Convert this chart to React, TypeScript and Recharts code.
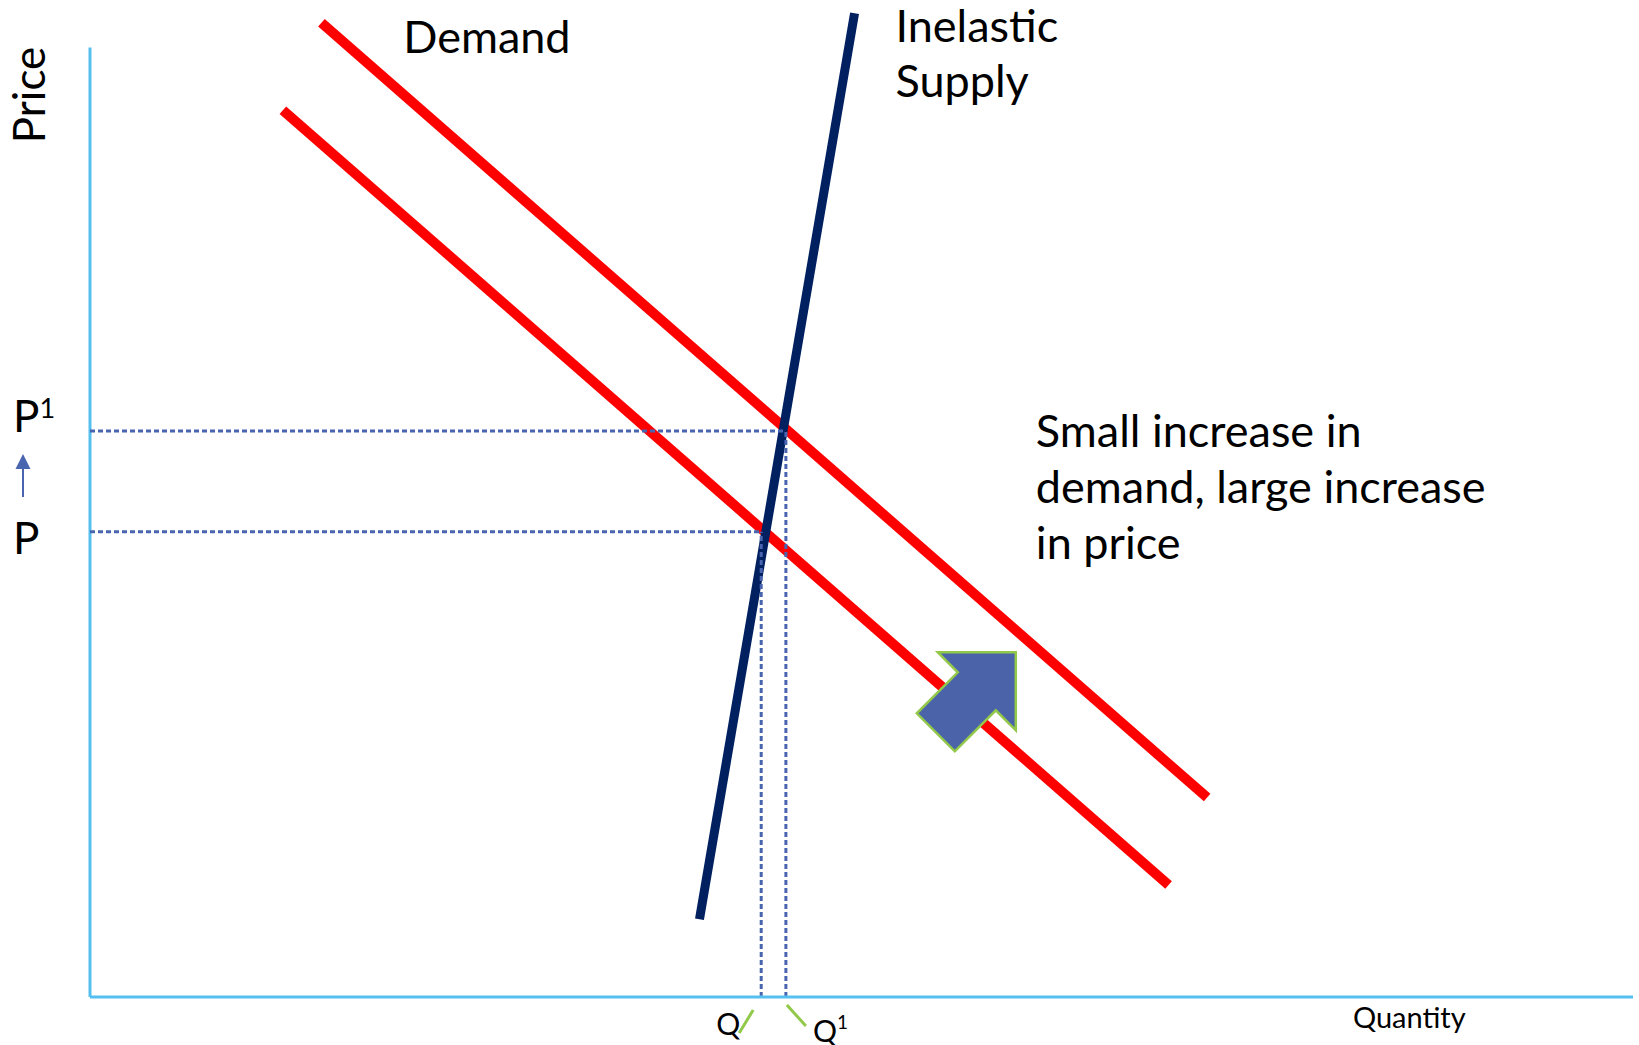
import React from "react";
import { LineChart, Line, XAxis, YAxis, ReferenceLine, ReferenceDot } from "recharts";

// Straight curves as end points: quantity (q) against price (p)
const demandBefore = [
  { q: 12.5, p: 93.4 },
  { q: 69.9, p: 11.8 },
];
const demandAfter = [
  { q: 15.0, p: 102.6 },
  { q: 72.4, p: 21.0 },
];
const supplyCurve = [
  { q: 39.5, p: 8.2 },
  { q: 49.55, p: 103.6 },
];

// equilibrium levels before / after the shift
const priceLevels = [49.0, 59.6];
const priceNames = ["P", "P1"];
const quantityLevels = [43.5, 45.1];
const quantityNames = ["Q", "Q1"];

const FONT = "Lato, 'Open Sans', sans-serif";
const AXIS_BLUE = "#55C0F0";
const GUIDE_BLUE = "#4A65B0";
const SLASH_GREEN = "#92C94A";
const DEMAND_RED = "#FF0000";
const SUPPLY_NAVY = "#002060";

function PriceTick({ x, y, index }: any) {
  if (index === 0) {
    return (
      <text x={x - 77} y={y + 22} fontSize={44} fontFamily={FONT} fill="#000">
        {priceNames[0]}
      </text>
    );
  }
  const ax = x - 67;
  return (
    <g>
      <text x={x - 77} y={y + 1} fontSize={44} fontFamily={FONT} fill="#000">
        {priceNames[1][0]}
        <tspan fontSize={27} dy={-14}>{priceNames[1].slice(1)}</tspan>
      </text>
      <line x1={ax} y1={y + 66} x2={ax} y2={y + 36} stroke={GUIDE_BLUE} strokeWidth={2} />
      <polygon points={`${ax},${y + 23} ${ax - 7.5},${y + 38} ${ax + 7.5},${y + 38}`} fill={GUIDE_BLUE} />
    </g>
  );
}

function QuantityTick({ x, y, index }: any) {
  if (index === 0) {
    return (
      <g>
        <line x1={x - 8} y1={y + 13} x2={x - 22} y2={y + 36} stroke={SLASH_GREEN} strokeWidth={3} />
        <text x={x - 45} y={y + 38} fontSize={30} fontFamily={FONT} fill="#000">
          {quantityNames[0]}
        </text>
      </g>
    );
  }
  return (
    <g>
      <line x1={x + 1} y1={y + 8} x2={x + 20} y2={y + 29} stroke={SLASH_GREEN} strokeWidth={3} />
      <text x={x + 27} y={y + 45} fontSize={30} fontFamily={FONT} fill="#000">
        {quantityNames[1][0]}
        <tspan fontSize={19} dy={-13}>{quantityNames[1].slice(1)}</tspan>
      </text>
    </g>
  );
}

// block arrow pointing up-right, anchored at its corner
const ShiftArrow = ({ cx, cy }: any) => {
  const pts = [
    [0, 0],
    [-78, 0],
    [-58, 20],
    [-99, 61],
    [-61, 99],
    [-20, 58],
    [0, 78],
  ]
    .map(([dx, dy]) => `${cx + dx},${cy + dy}`)
    .join(" ");
  return <polygon points={pts} fill="#4A63A9" stroke={SLASH_GREEN} strokeWidth={2.5} strokeLinejoin="miter" />;
};

const textShape = (lines: string[], size: number, gap: number, rotate = false) =>
  function TextShape({ cx, cy }: any) {
    return (
      <text
        x={cx}
        y={cy}
        fontSize={size}
        fontFamily={FONT}
        fill="#000"
        textAnchor={rotate ? "middle" : "start"}
        transform={rotate ? `rotate(-90, ${cx}, ${cy})` : undefined}
      >
        {lines.map((l, i) => (
          <tspan key={i} x={cx} dy={i === 0 ? 0 : gap}>
            {l}
          </tspan>
        ))}
      </text>
    );
  };

export default function App() {
  const [p0, p1] = priceLevels;
  const [q0, q1] = quantityLevels;
  const guide = { stroke: GUIDE_BLUE, strokeWidth: 3, strokeDasharray: "5 3" };

  return (
    <div style={{ position: "absolute", left: 0, top: 0, background: "#fff" }}>
      <LineChart width={1639} height={1045} margin={{ top: 0, right: 6, bottom: 0, left: 0 }}>
        <XAxis
          type="number"
          dataKey="q"
          domain={[0, 100]}
          ticks={quantityLevels}
          tick={<QuantityTick />}
          tickLine={false}
          tickSize={0}
          tickMargin={0}
          height={48}
          interval={0}
          axisLine={{ stroke: AXIS_BLUE, strokeWidth: 3 }}
        />
        <YAxis
          type="number"
          dataKey="p"
          domain={[0, 105]}
          ticks={priceLevels}
          tick={<PriceTick />}
          tickLine={false}
          tickSize={0}
          tickMargin={0}
          width={90}
          interval={0}
          axisLine={false}
        />
        <ReferenceLine segment={[{ x: 0, y: 0 }, { x: 0, y: 100 }]} stroke={AXIS_BLUE} strokeWidth={3} ifOverflow="visible" />

        <Line data={demandBefore} dataKey="p" stroke={DEMAND_RED} strokeWidth={10} dot={false} isAnimationActive={false} />
        <Line data={demandAfter} dataKey="p" stroke={DEMAND_RED} strokeWidth={10} dot={false} isAnimationActive={false} />
        <Line data={supplyCurve} dataKey="p" stroke={SUPPLY_NAVY} strokeWidth={9} dot={false} isAnimationActive={false} />

        <ReferenceLine segment={[{ x: 0, y: p1 }, { x: q1, y: p1 }]} {...guide} />
        <ReferenceLine segment={[{ x: 0, y: p0 }, { x: q0, y: p0 }]} {...guide} />
        <ReferenceLine segment={[{ x: q0, y: 0 }, { x: q0, y: p0 }]} {...guide} />
        <ReferenceLine segment={[{ x: q1, y: 0 }, { x: q1, y: p1 }]} {...guide} />

        <ReferenceDot x={60.0} y={36.3} r={0} ifOverflow="visible" shape={<ShiftArrow />} />

        <ReferenceDot x={20.3} y={99.4} r={0} ifOverflow="visible" shape={textShape(["Demand"], 45, 0)} />
        <ReferenceDot x={52.2} y={100.6} r={0} ifOverflow="visible" shape={textShape(["Inelastic", "Supply"], 45, 55)} />
        <ReferenceDot
          x={61.3}
          y={57.9}
          r={0}
          ifOverflow="visible"
          shape={textShape(["Small increase in", "demand, large increase", "in price"], 45, 56)}
        />
        <ReferenceDot x={-2.9} y={95.0} r={0} ifOverflow="visible" shape={textShape(["Price"], 44, 0, true)} />
        <ReferenceDot x={81.85} y={-3.26} r={0} ifOverflow="visible" shape={textShape(["Quantity"], 29, 0)} />
      </LineChart>
    </div>
  );
}
